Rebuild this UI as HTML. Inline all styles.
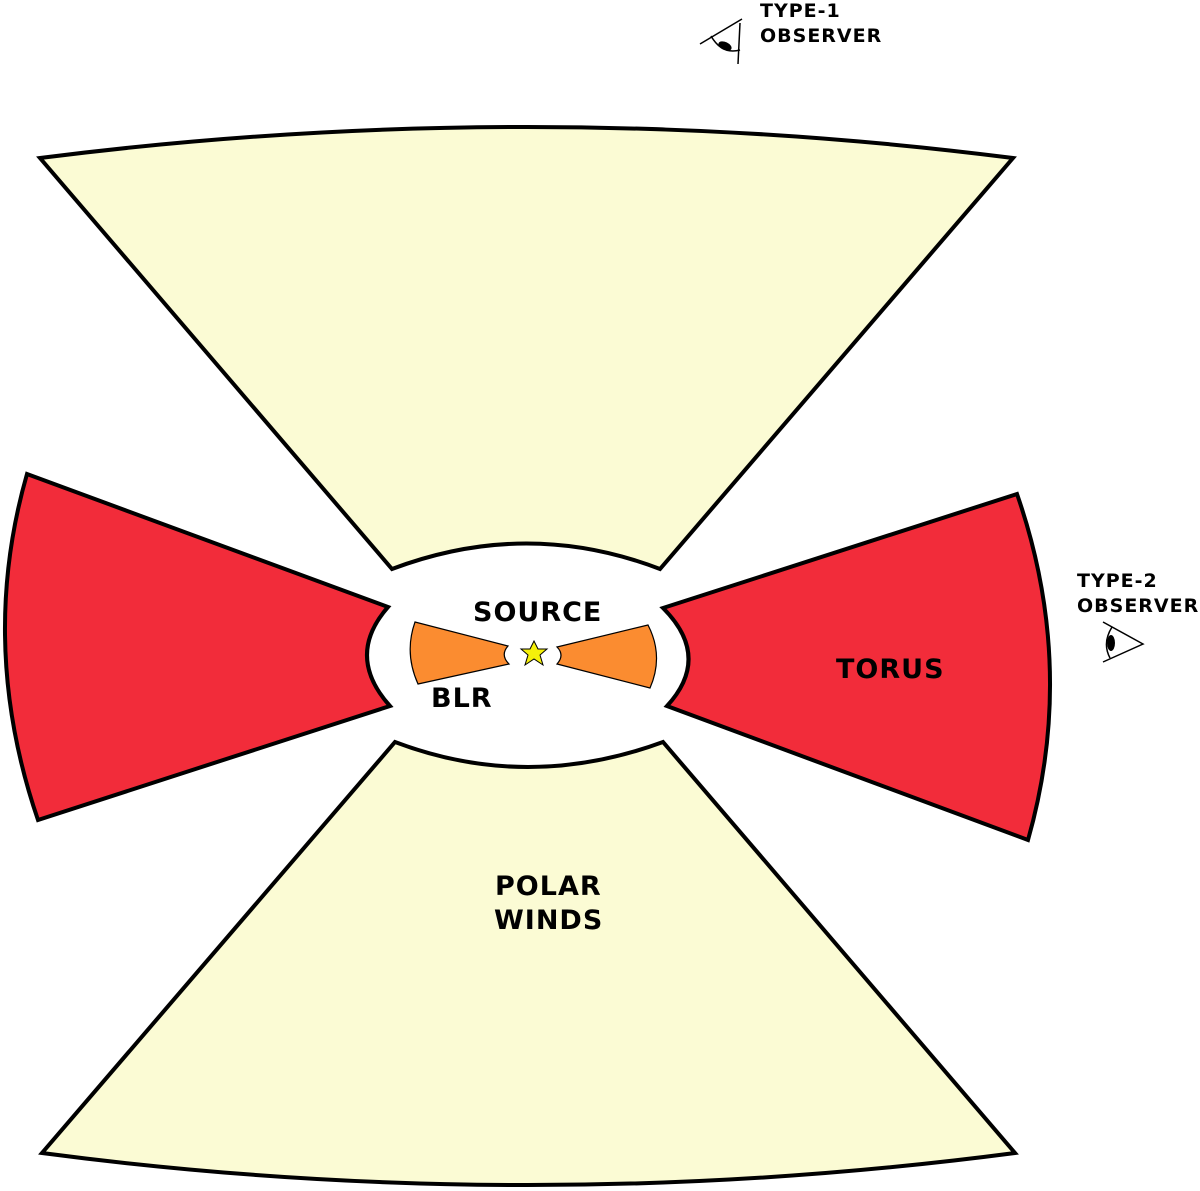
<!DOCTYPE html>
<html><head><style>
html,body{margin:0;padding:0;background:#fff;}
svg{display:block;}
text{font-family:"DejaVu Sans","Liberation Sans",sans-serif;font-weight:bold;fill:#000;}
</style></head><body>
<svg width="1200" height="1191" viewBox="0 0 1200 1191" xmlns="http://www.w3.org/2000/svg">
<g stroke="#000" stroke-width="4" stroke-linejoin="miter">
<path d="M40,158 Q527,96 1013,158 L660,569 Q527,518 392,569 Z" fill="#fbfbd4"/>
<path d="M42,1153 Q527,1217 1015,1153 L663,742 Q527,792 395,742 Z" fill="#fbfbd4"/>
<path d="M27,474 L388,607 Q345,656 390,706 L38,820 Q-22,645 27,474 Z" fill="#f22c3a"/>
<path d="M1017,494 L663,608 Q712,657 667,706 L1028,840 Q1077,667 1017,494 Z" fill="#f22c3a"/>
</g>
<g stroke="#000" stroke-width="1.2" fill="#fb8c30">
<path d="M415,622 L508,646 Q500,655 509,664 L418,684 Q404,653 415,622 Z"/>
<path d="M648,625 L557,647 Q565,655 557,664 L650,688 Q664,656 648,625 Z"/>
</g>
<polygon points="534,641 538,649 547,649 540,655 543,665 534,659 525,665 528,655 521,649 530,649" fill="#f5f00a" stroke="#000" stroke-width="1"/>
<g font-size="27" letter-spacing="1">
<text x="473" y="621">SOURCE</text>
<text x="431" y="707">BLR</text>
<text x="836" y="678">TORUS</text>
<text x="495" y="895">POLAR</text>
<text x="494" y="929">WINDS</text>
</g>
<g font-size="19" letter-spacing="1">
<text x="760" y="17">TYPE-1</text>
<text x="760" y="42">OBSERVER</text>
<text x="1077" y="587">TYPE-2</text>
<text x="1077" y="612">OBSERVER</text>
</g>
<g stroke="#000" stroke-width="1.5" fill="none">
<path d="M700,44 L742,19 M738,64 L740,23"/>
<path d="M711,36 Q722,55 740,50"/>
<path d="M1103,622 L1143,644 L1103,662"/>
<path d="M1112,627 Q1102,643 1110,658"/>
</g>
<ellipse cx="725" cy="46" rx="7" ry="4" transform="rotate(25 725 46)" fill="#000"/>
<ellipse cx="1111" cy="643" rx="4" ry="8" fill="#000"/>
</svg>
</body></html>
